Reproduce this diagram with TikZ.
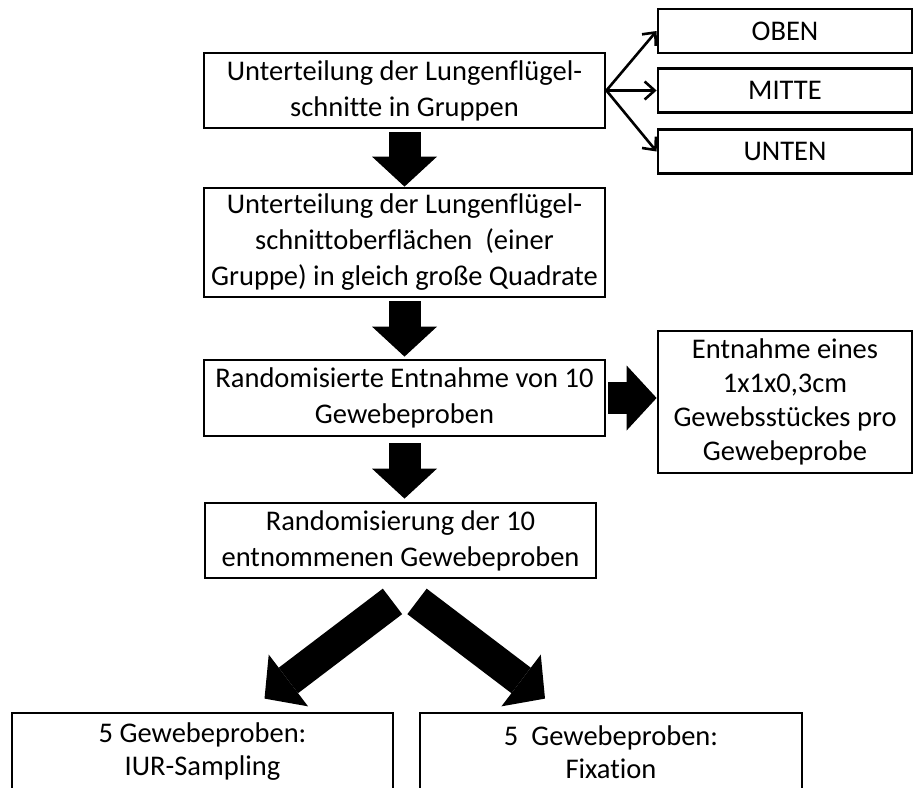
\documentclass[tikz,border=0pt]{standalone}
\usepackage{fontspec}
\setmainfont{Carlito}[Ligatures=NoCommon]
\usepackage{tikz}
\usetikzlibrary{arrows.meta, calc}

\tikzset{
    box/.style={draw, line width=2.8pt, align=center, inner sep=0pt,
        font=\fontsize{28.5}{36}\selectfont},
    thin arrow/.style={line width=2.6pt, -{Straight Barb[length=10pt, width=18pt]}},
    fat arrow/.style={line width=32pt, -{Triangle[length=30pt, width=65pt, line width=0pt]}}
}

\begin{document}
\begin{tikzpicture}[x=1pt, y=-1pt]
    \clip (0,0) rectangle (915,787);
    \fill[white] (0,0) rectangle (915,787);

    \node[box, minimum width=401pt, minimum height=75pt] (teil) at (404.5,90.5) {Unterteilung der Lungenflügel-\\schnitte in Gruppen};
    \node[box, minimum width=254pt, minimum height=44pt] (oben) at (785,31) {OBEN};
    \node[box, minimum width=254pt, minimum height=44pt] (mitte) at (785,90.5) {MITTE};
    \node[box, minimum width=254pt, minimum height=44pt] (unten) at (785,151.5) {UNTEN};
    \node[box, minimum width=401pt, minimum height=109pt] (quadrat) at (404.5,242.5) {Unterteilung der Lungenflügel-\\schnittoberflächen~ (einer\\Gruppe) in gleich große Quadrate};
    \node[box, minimum width=401pt, minimum height=76pt] (entnahme) at (404.5,398) {Randomisierte Entnahme von 10\\Gewebeproben};
    \node[box, minimum width=254pt, minimum height=142pt, font=\fontsize{28.5}{34}\selectfont] (stueck) at (785,402) {Entnahme eines\\1x1x0,3cm\\Gewebsstückes pro\\Gewebeprobe};
    \node[box, minimum width=391pt, minimum height=75pt] (random) at (400.5,540.5) {Randomisierung der 10\\entnommenen Gewebeproben};
    \node[box, minimum width=381pt, minimum height=78pt, font=\fontsize{28.5}{33}\selectfont] (iur) at (202.5,752) {5 Gewebeproben:\\IUR-Sampling};
    \node[box, minimum width=382pt, minimum height=78pt, font=\fontsize{28.5}{33}\selectfont] (fix) at (611,752) {5~ Gewebeproben:\\Fixation};

    % Gruppen
    \foreach \g in {oben, mitte, unten}
        \draw[thin arrow] (teil.east) -- (\g.west);

    \draw[fat arrow, shorten <=3pt] (teil.south) -- (quadrat.north);
    \draw[fat arrow, shorten <=3pt, shorten >=2pt] (quadrat.south) -- (entnahme.north);
    \draw[fat arrow, shorten <=2pt] (entnahme.east) -- (stueck.west |- entnahme.east);
    \draw[fat arrow, shorten <=6pt, shorten >=3pt] (entnahme.south) -- (entnahme.south |- random.north);

    % Aufteilung
    \draw[fat arrow] ($(random.south)+(-8,22)$) -- ($(iur.north)+(62,-13)$);
    \draw[fat arrow] ($(random.south)+(16.5,22)$) -- ($(fix.north)+(-66,-13)$);
\end{tikzpicture}
\end{document}
